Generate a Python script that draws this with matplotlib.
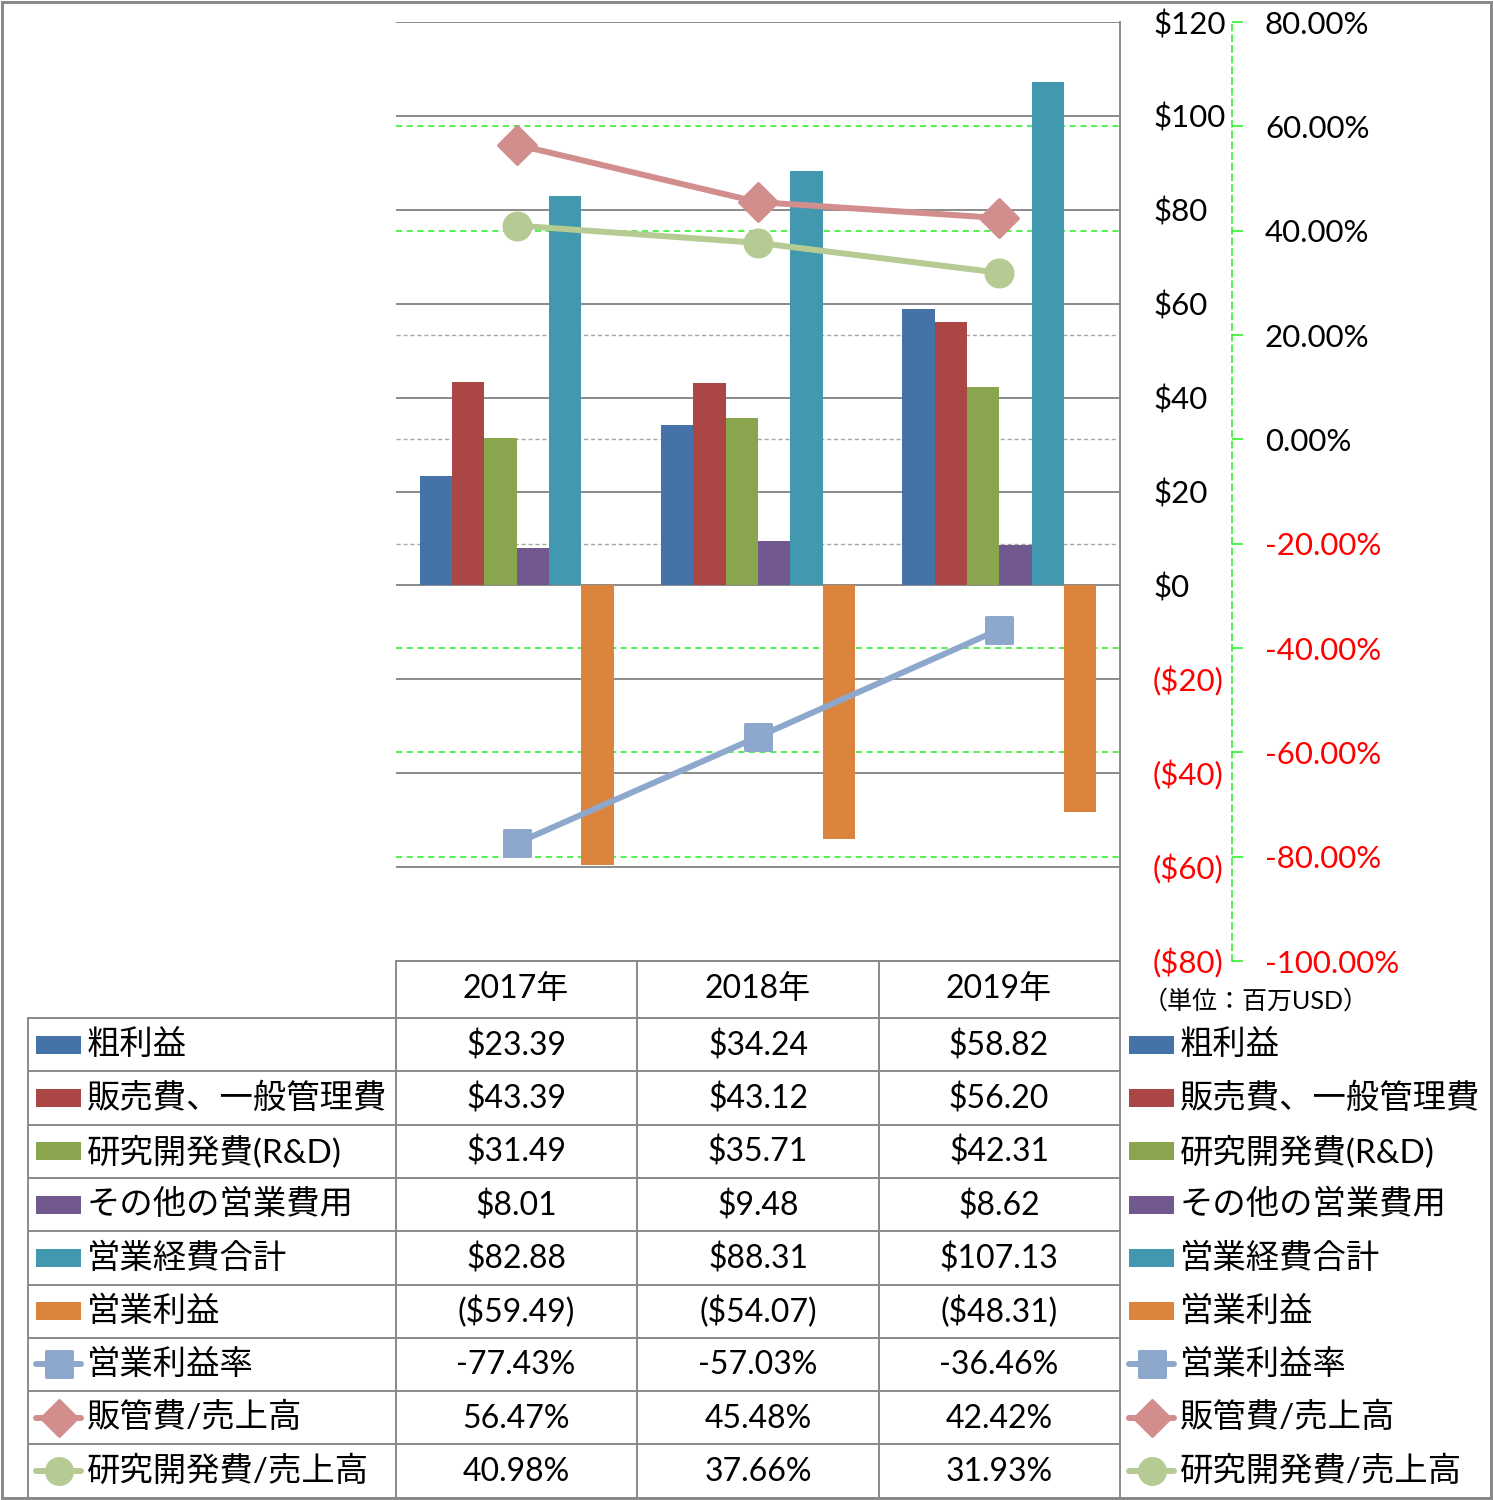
import numpy as np
import matplotlib.pyplot as plt
from matplotlib.markers import MarkerStyle
from matplotlib.patches import Rectangle
from matplotlib.lines import Line2D

plt.rcParams['font.family'] = ['Lato', 'Noto Sans CJK JP', 'DejaVu Sans']

# データ (単位: 百万USD)
years = ['2017年', '2018年', '2019年']
gross_profit = [23.39, 34.24, 58.82]
sga = [43.39, 43.12, 56.20]
rnd = [31.49, 35.71, 42.31]
other_opex = [8.01, 9.48, 8.62]
total_opex = [82.88, 88.31, 107.13]
op_income = [-59.49, -54.07, -48.31]
op_margin = [-77.43, -57.03, -36.46]
sga_ratio = [56.47, 45.48, 42.42]
rnd_ratio = [40.98, 37.66, 31.93]

bar_names = ['粗利益', '販売費、一般管理費', '研究開発費(R&D)', 'その他の営業費用', '営業経費合計', '営業利益']
line_names = ['営業利益率', '販管費/売上高', '研究開発費/売上高']
left_ticks = list(range(-80, 121, 20))
right_ticks = list(range(-100, 81, 20))

bar_colors = ['#4572A7', '#AA4643', '#89A54E', '#71588F', '#4198AF', '#DB843D']
line_colors = ['#8EA8CD', '#D18E8D', '#B5CB93']
line_markers = ['s', 'D', 'o']

W, H = 1493, 1500
DPI = 100
PT = 72 / DPI  # px -> pt
NUM_FS = 23
LAB_FS = 24


def money(v):
    return f'(${-v:.2f})' if v < 0 else f'${v:.2f}'


def money_tick(v):
    return f'(${-v:.0f})' if v < 0 else f'${v:.0f}'


fig = plt.figure(figsize=(W / DPI, H / DPI), dpi=DPI)

# 背景用のピクセル座標軸 (表・枠線)
bg = fig.add_axes([0, 0, 1, 1])
bg.set_xlim(0, W)
bg.set_ylim(H, 0)
bg.axis('off')
bg.set_zorder(0)

# メインの軸
px_l, px_r, px_t, px_b = 396, 1120, 22, 961
ax = fig.add_axes([px_l / W, 1 - px_b / H, (px_r - px_l) / W, (px_b - px_t) / H])
ax.set_zorder(1)
ax.patch.set_visible(False)
ax2 = ax.twinx()
ax2.set_zorder(2)
ax2.patch.set_visible(False)

lo, hi = left_ticks[0], left_ticks[-1]
rlo, rhi = right_ticks[0], right_ticks[-1]
ax.set_ylim(lo, hi)
ax2.set_ylim(rlo, rhi)
ax.set_xlim(-0.5, len(years) - 0.5)


def r2l(p):
    return lo + (p - rlo) / (rhi - rlo) * (hi - lo)


# グリッド線
for v in left_ticks:
    ax.axhline(v, color='#8a8a8a', lw=1.4, zorder=0.5)
for p in right_ticks[1:-1]:
    if -20 <= p <= 20:
        ax.axhline(r2l(p), color='#a8a8a8', lw=1.0, ls=(0, (3, 2)), zorder=0.6)
    else:
        ax.axhline(r2l(p), color='#22ee22', lw=1.1, ls=(0, (4, 3)), zorder=0.6)

# 棒グラフ
series = [gross_profit, sga, rnd, other_opex, total_opex, op_income]
x = np.arange(len(years))
bw = 0.134
for j, (vals, c) in enumerate(zip(series, bar_colors)):
    ax.bar(x + (j - 2.5) * bw, vals, width=bw, color=c, zorder=2, linewidth=0)

# 折れ線
ratios = [op_margin, sga_ratio, rnd_ratio]
for vals, c, m in zip(ratios, line_colors, line_markers):
    ax2.plot(x, vals, color=c, lw=6 * PT,
             marker=MarkerStyle(m, joinstyle='round'), ms=27 * PT,
             mfc=c, mec=c, mew=3 * PT, solid_capstyle='round', zorder=3)

for a in (ax, ax2):
    for s in a.spines.values():
        s.set_visible(False)
ax.set_xticks([])
ax2.set_xticks([])

# 左軸 (右側に表示)
ax.yaxis.tick_right()
ax.set_yticks(left_ticks, labels=[money_tick(v) for v in left_ticks])
ax.tick_params(axis='y', length=0, pad=33 * PT, labelsize=22.5)
for t, v in zip(ax.get_yticklabels(), left_ticks):
    t.set_color('red' if v < 0 else 'black')

# 右軸
ax2.spines['right'].set_visible(True)
ax2.spines['right'].set_position(('outward', 112 * PT))
ax2.spines['right'].set_color('#22ee22')
ax2.spines['right'].set_linestyle((0, (4, 3)))
ax2.spines['right'].set_linewidth(1.1)
ax2.set_yticks(right_ticks, labels=[f'{p:.2f}%' for p in right_ticks])
ax2.tick_params(axis='y', length=11 * PT, width=1.1, color='#22ee22', pad=22 * PT, labelsize=22.5)
for t, p in zip(ax2.get_yticklabels(), right_ticks):
    t.set_color('red' if p < 0 else 'black')

# データテーブル
grid_c = '#8a8a8a'
col_x = [396, 637, 879, 1120]
col_c = [516, 758, 999]
row_top = 1018
row_h = 53.3
n_rows = len(bar_names) + len(line_names)
row_c = [row_top + row_h * (i + 0.5) for i in range(n_rows)]
bottom = row_top + row_h * n_rows

bg.plot([396, 1120], [961, 961], color=grid_c, lw=1.4)
for i in range(n_rows):
    yy = row_top + row_h * i
    bg.plot([28, 1120], [yy, yy], color=grid_c, lw=1.4)
for xx in col_x[:-1]:
    bg.plot([xx, xx], [961, bottom], color=grid_c, lw=1.4)
bg.plot([1120, 1120], [22, bottom], color=grid_c, lw=1.4)
bg.plot([28, 28], [row_top, bottom], color=grid_c, lw=1.4)

for cx, yr in zip(col_c, years):
    bg.text(cx, 989, yr, ha='center', va='center', fontsize=NUM_FS)

table_vals = [[money(v) for v in s] for s in series] + \
             [[f'{v:.2f}%' for v in s] for s in ratios]
for r, vals in enumerate(table_vals):
    for cx, s in zip(col_c, vals):
        bg.text(cx, row_c[r] + 1, s, ha='center', va='center', fontsize=NUM_FS)


def legend_key(x0, y, r):
    if r < len(bar_names):
        bg.add_patch(Rectangle((x0, y - 9), 45, 18, color=bar_colors[r], lw=0))
    else:
        k = r - len(bar_names)
        bg.add_line(Line2D([x0, x0 + 45], [y, y], color=line_colors[k], lw=6 * PT,
                           solid_capstyle='round'))
        bg.add_line(Line2D([x0 + 22.5], [y], marker=MarkerStyle(line_markers[k], joinstyle='round'),
                           ms=26 * PT, color=line_colors[k],
                           mec=line_colors[k], mew=3 * PT))


labels = bar_names + line_names
for r, lab in enumerate(labels):
    legend_key(36, row_c[r], r)
    bg.text(87, row_c[r], lab, ha='left', va='center', fontsize=LAB_FS)
    legend_key(1129, row_c[r], r)
    bg.text(1180, row_c[r], lab, ha='left', va='center', fontsize=LAB_FS)

bg.text(1143, 1001, '（単位：百万USD）', ha='left', va='center', fontsize=18)

# 外枠
bg.add_patch(Rectangle((1.5, 1.5), W - 4, H - 4, fill=False, edgecolor='#8a8a8a', lw=3 * PT))

fig.savefig('out.png', dpi=DPI)
